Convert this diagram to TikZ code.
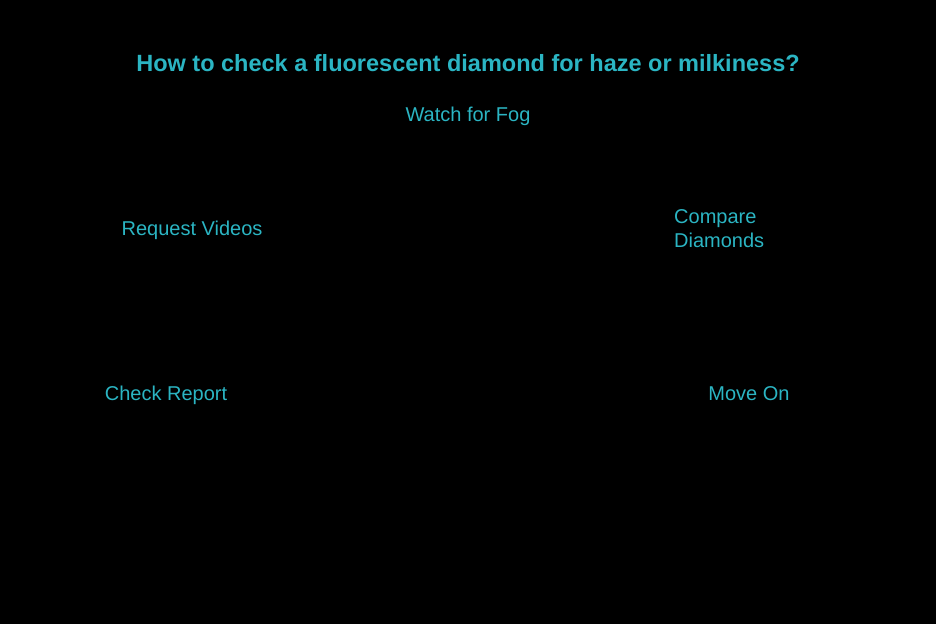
\documentclass[tikz,border=0pt]{standalone}
\usepackage{fontspec}
\setmainfont{Liberation Sans}
\definecolor{tealtext}{HTML}{2BB5C3}
\begin{document}
\begin{tikzpicture}[x=1pt,y=-1pt,
  lbl/.style={text=tealtext,font=\fontsize{20}{24}\selectfont,inner sep=0pt,text height=15pt,text depth=4pt},
  ttl/.style={text=tealtext,font=\bfseries\fontsize{23.5}{28}\selectfont,inner sep=0pt,text height=17pt,text depth=5pt}]
\fill[black] (0,0) rectangle (936,624);
\useasboundingbox (0,0) rectangle (936,624);
\node[ttl] (title) at (468,65) {How to check a fluorescent diamond for haze or milkiness?};
\node[lbl] (fog) at (468,116) {Watch for Fog};
\node[lbl] (videos) at (192,230) {Request Videos};
\node[lbl,anchor=west,align=left,text height=,text depth=] (compare) at (674,229) {Compare\\Diamonds};
\node[lbl] (report) at (166,395) {Check Report};
\node[lbl] (moveon) at (749,395) {Move On};
\end{tikzpicture}
\end{document}
